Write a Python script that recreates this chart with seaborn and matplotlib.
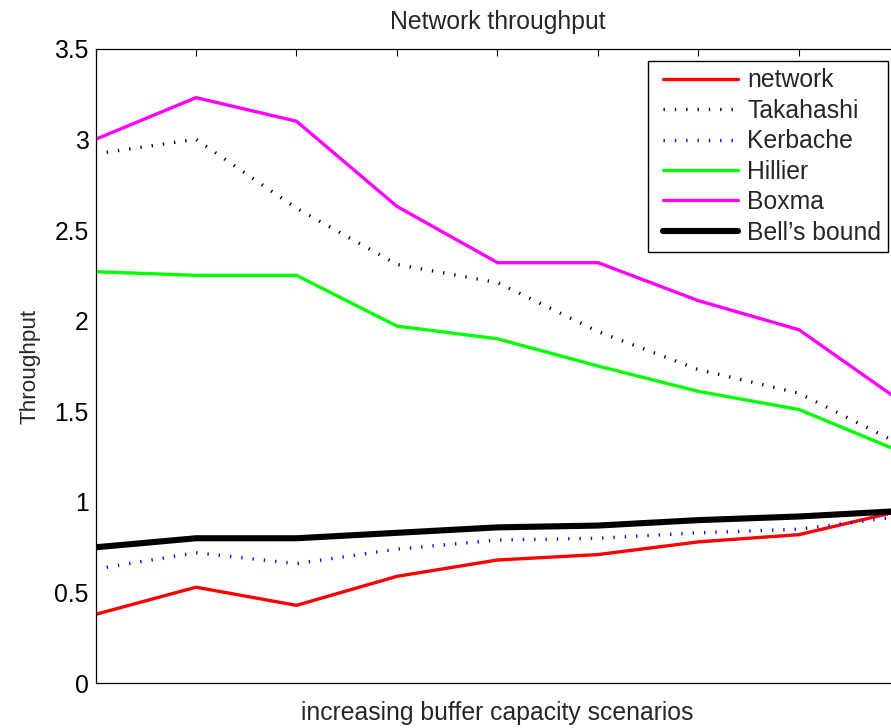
import matplotlib
matplotlib.use("Agg")
import matplotlib.pyplot as plt
from matplotlib.lines import Line2D
from matplotlib.legend_handler import HandlerLine2D
import numpy as np
import seaborn as sns

# Buffer-capacity scenarios (1 = smallest buffers)
scenarios = [1, 2, 3, 4, 5, 6, 7, 8, 9]

# Throughput per method
network   = [0.38, 0.53, 0.43, 0.59, 0.68, 0.71, 0.78, 0.82, 0.95]
takahashi = [2.92, 3.00, 2.62, 2.31, 2.21, 1.94, 1.73, 1.60, 1.32]
kerbache  = [0.63, 0.72, 0.66, 0.74, 0.79, 0.80, 0.83, 0.85, 0.92]
hillier   = [2.27, 2.25, 2.25, 1.97, 1.90, 1.75, 1.61, 1.51, 1.28]
boxma     = [3.00, 3.23, 3.10, 2.63, 2.32, 2.32, 2.11, 1.95, 1.56]
bell      = [0.75, 0.80, 0.80, 0.83, 0.86, 0.87, 0.90, 0.92, 0.95]

series_names = ["network", "Takahashi", "Kerbache", "Hillier", "Boxma", "Bell\u2019s bound"]

y_ticks = [0, 0.5, 1, 1.5, 2, 2.5, 3, 3.5]
y_tick_labels = ["0", "0.5", "1", "1.5", "2", "2.5", "3", "3.5"]

sns.set_style("white")
plt.rcParams["font.family"] = ["Liberation Sans", "DejaVu Sans"]
FS = 17.8


class InsetLineHandler(HandlerLine2D):
    """Legend line sample that leaves a small gap at its left end."""

    def __init__(self, inset, **kw):
        super().__init__(**kw)
        self.inset = inset

    def create_artists(self, legend, orig_handle, xdescent, ydescent,
                       width, height, fontsize, trans):
        arts = super().create_artists(legend, orig_handle, xdescent, ydescent,
                                      width, height, fontsize, trans)
        for a in arts:
            xd = np.asarray(a.get_xdata(), dtype=float)
            if xd.size >= 2:
                a.set_xdata(np.linspace(xd[0] + self.inset, xd[-1], xd.size))
        return arts


fig = plt.figure(figsize=(8.91, 7.28), dpi=100)
W, H = 891.0, 728.0
ax = fig.add_axes([95.5 / W, 44.7 / H, 804.0 / W, 634.6 / H])

dotted = (0, (0.4, 3.0))
styles = [
    dict(color=(1, 0, 0), linewidth=2.4, linestyle="-"),
    dict(color="black", linewidth=2.4, linestyle=dotted),
    dict(color=(0, 0, 1), linewidth=2.4, linestyle=dotted),
    dict(color=(0, 1, 0), linewidth=2.4, linestyle="-"),
    dict(color=(1, 0, 1), linewidth=2.4, linestyle="-"),
    dict(color="black", linewidth=4.4, linestyle="-"),
]
values = [network, takahashi, kerbache, hillier, boxma, bell]

for name, vals, st in zip(series_names, values, styles):
    sns.lineplot(x=scenarios, y=vals, ax=ax, label=name, **st)

ax.set_xlim(1, 9)
ax.set_ylim(0, 3.5)
ax.set_xticks(scenarios)
ax.set_xticklabels([])
ax.set_yticks(y_ticks)
ax.set_yticklabels(y_tick_labels, fontsize=FS)
ax.tick_params(direction="in", length=5, width=0.8, top=True, right=True,
               pad=5, colors="black")
for sp in ax.spines.values():
    sp.set_visible(True)
    sp.set_color("black")
    sp.set_linewidth(0.9)

ax.set_title("Network throughput", fontsize=FS, pad=14)
ax.set_xlabel("increasing buffer capacity scenarios", fontsize=FS)
ax.set_ylabel("Throughput", fontsize=16.2)
ax.xaxis.set_label_coords(0.5, -0.028)
ax.yaxis.set_label_coords(-0.069, 0.5)

px = FS * 100 / 72.0  # font size in pixels
leg = ax.legend(loc="upper left", bbox_to_anchor=(648 / W, 1 - 61 / H),
                bbox_transform=fig.transFigure, borderaxespad=0,
                fontsize=FS, frameon=True, fancybox=False, framealpha=1,
                edgecolor="black", handlelength=82.6 / px, handletextpad=9 / px,
                labelspacing=0.26, borderpad=0.3,
                handler_map={Line2D: InsetLineHandler(7.6 * 72 / 100)})
leg.get_frame().set_linewidth(1.0)

fig.savefig("out.png", dpi=100)
